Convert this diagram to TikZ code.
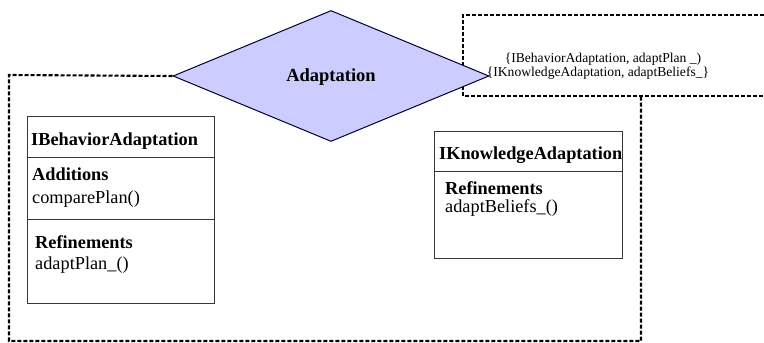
\documentclass[tikz,border=0pt]{standalone}
\usepackage{fontspec}
\setmainfont{Liberation Serif}
\usetikzlibrary{shapes.geometric}
\definecolor{lilac}{RGB}{204,204,255}
\definecolor{boxline}{RGB}{55,55,55}
\begin{document}
\begin{tikzpicture}[x=1pt,y=-1pt,
  frame/.style={line width=2.1pt, dash pattern=on 4pt off 2pt},
  classbox/.style={draw=boxline, line width=1pt, inner sep=0pt},
  divider/.style={draw=boxline, line width=1pt},
  title/.style={anchor=base west, inner sep=0pt, font=\fontsize{18.3}{20}\selectfont\bfseries},
  member/.style={anchor=base west, inner sep=0pt, font=\fontsize{18.3}{20}\selectfont},
  pairtext/.style={anchor=base, inner sep=0pt, font=\fontsize{13.6}{14}\selectfont},
  decision/.style={diamond, draw=black!80!blue, fill=lilac, line width=1pt,
    inner sep=0pt, minimum width=316pt, minimum height=131pt,
    font=\fontsize{18}{20}\selectfont\bfseries}]
\useasboundingbox (0,0) rectangle (764,343);
\clip (0,0) rectangle (764,343);

% corner points of the dashed frames
\coordinate (tl) at (9,75);
\coordinate (bl) at (9,341);
\coordinate (br) at (641,341);
\coordinate (jn) at (641,96);
\coordinate (nw) at (463,15);
\coordinate (sw) at (463,96);
\coordinate (ne) at (770,15);
\coordinate (se) at (770,96);

% frame holding the refinement pairs
\draw[frame] (ne) -- (nw) -- (sw) -- (se);

% the adaptation decision
\node[decision] (dia) at (331,76) {};
\node[anchor=base, inner sep=0pt, font=\fontsize{18.5}{20}\selectfont\bfseries] (lbl) at (331,81) {Adaptation};

% frame enclosing the two interfaces
\draw[frame] (dia.west) -- (tl) -- (bl) -- (br) -- (jn);

% refinement pairs
\node[pairtext] (p1) at (603,62) {\{IBehaviorAdaptation, adaptPlan \_)};
\node[pairtext] (p2) at (598,76) {\{IKnowledgeAdaptation, adaptBeliefs\_\}};

% IBehaviorAdaptation class
\node[classbox, minimum width=187pt, minimum height=187pt] (beh) at (120.5,209.5) {};
\coordinate (b1) at (0,157);
\coordinate (b2) at (0,219);
\draw[divider] (beh.west |- b1) -- (beh.east |- b1);
\draw[divider] (beh.west |- b2) -- (beh.east |- b2);
\node[title]  (bt)  at (31,145) {IBehaviorAdaptation};
\node[title]  (ba)  at (32,180) {Additions};
\node[member] (bcp) at (32,203) {comparePlan()};
\node[title]  (br1) at (35,248) {Refinements};
\node[member] (bap) at (35,269) {adaptPlan\_()};

% IKnowledgeAdaptation class
\node[classbox, minimum width=188pt, minimum height=127pt] (kno) at (528,194.5) {};
\coordinate (k1) at (0,171);
\draw[divider] (kno.west |- k1) -- (kno.east |- k1);
\node[title]  (kt)  at (439,159) {IKnowledgeAdaptation};
\node[title]  (kr)  at (445,194) {Refinements};
\node[member] (kab) at (445,212) {adaptBeliefs\_()};
\end{tikzpicture}
\end{document}
